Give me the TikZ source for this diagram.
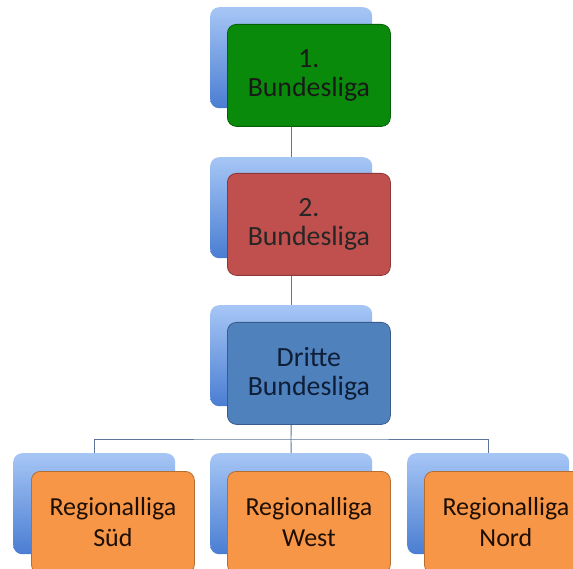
\documentclass[tikz,border=0pt]{standalone}
\usepackage{fontspec}
\setmainfont{Carlito}
\definecolor{lgreen}{HTML}{0A8A0A}
\definecolor{lgreenb}{HTML}{066006}
\definecolor{lred}{HTML}{C0504D}
\definecolor{lredb}{HTML}{8C3836}
\definecolor{lblue}{HTML}{4F81BD}
\definecolor{lblueb}{HTML}{385D8A}
\definecolor{lorange}{HTML}{F79646}
\definecolor{lorangeb}{HTML}{B66D31}
\definecolor{backtop}{HTML}{A6C6F5}
\definecolor{backbot}{HTML}{4A7DD2}
\definecolor{conn}{HTML}{5B7499}
\tikzset{
  backbox/.style={rectangle, rounded corners=9pt, anchor=north west,
    minimum width=162pt, minimum height=101pt, inner sep=0pt,
    top color=backtop, bottom color=backbot, draw=none},
  frontbox/.style={rectangle, rounded corners=9pt, anchor=north west,
    minimum width=163pt, minimum height=102pt, inner sep=0pt,
    align=center, line width=0.8pt},
  bigtext/.style={font=\fontsize{27.8}{29}\selectfont},
  smalltext/.style={font=\fontsize{26}{31}\selectfont},
  connector/.style={draw=conn, line width=0.9pt}
}
\begin{document}
\begin{tikzpicture}[x=1pt,y=-1pt]
\useasboundingbox (0,0) rectangle (573,569);
\clip (0,0) rectangle (573,569);
\fill[white] (0,0) rectangle (573,569);
% level 1
\node[backbox] (b1) at (210,7) {};
\node[frontbox, bigtext, fill=lgreen, draw=lgreenb, text=black!90] (f1) at (227,24) {1.\\Bundesliga};
% level 2
\node[backbox] (b2) at (210,157) {};
\node[frontbox, bigtext, fill=lred, draw=lredb, text=black!85] (f2) at (227,173) {2.\\Bundesliga};
% level 3
\node[backbox] (b3) at (210,305) {};
\node[frontbox, bigtext, fill=lblue, draw=lblueb, text={rgb,255:red,15;green,30;blue,55}] (f3) at (227,322) {Dritte\\Bundesliga};
% level 4
\node[backbox] (b4) at (13,453) {};
\node[frontbox, smalltext, fill=lorange, draw=lorangeb, text={rgb,255:red,30;green,15;blue,5}] (f4) at (31,471) {Regionalliga\\Süd};
\node[backbox] (b5) at (210,453) {};
\node[frontbox, smalltext, fill=lorange, draw=lorangeb, text={rgb,255:red,30;green,15;blue,5}] (f5) at (227,471) {Regionalliga\\West};
\node[backbox] (b6) at (407,453) {};
\node[frontbox, smalltext, fill=lorange, draw=lorangeb, text={rgb,255:red,30;green,15;blue,5}] (f6) at (424,471) {Regionalliga\\Nord};
% connectors
\coordinate (h) at (291,439);
\draw[connector] (b1.south |- f1.south) -- (b2.north);
\draw[connector] (b2.south |- f2.south) -- (b3.north);
\draw[connector] (b3.south |- f3.south) -- (h);
\draw[connector] (h) -- (b5.north);
\draw[connector] (b4.north) |- (h) -| (b6.north);
\end{tikzpicture}
\end{document}
